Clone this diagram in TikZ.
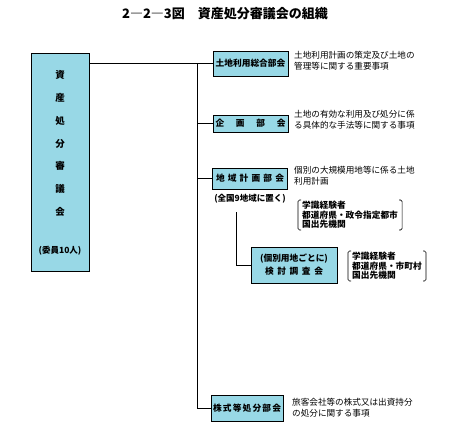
\documentclass[tikz,border=0pt]{standalone}
\usepackage{fontspec}
\setmainfont{Noto Sans CJK JP}
\definecolor{boxcyan}{RGB}{152,216,230}
\newcommand{\hf}{\hfill{}}
\begin{document}
\begin{tikzpicture}[x=1pt,y=-1pt,
  box/.style={draw=black, line width=0.9pt, fill=boxcyan, inner sep=0pt, font=\fontsize{8.7}{10}\selectfont\bfseries},
  conn/.style={draw=black, line width=0.8pt},
  desc/.style={anchor=north west, inner sep=0pt, align=left, font=\fontsize{8.6}{11.5}\selectfont},
  brk/.style={anchor=north west, inner xsep=4pt, inner ysep=1pt, align=left, font=\fontsize{8.7}{9.6}\selectfont\bfseries},
  brline/.style={draw=black, line width=0.6pt, rounded corners=1.5pt}]
\useasboundingbox (0,0) rectangle (462,440);
\fill[white] (0,0) rectangle (462,440);
% title
\node[font=\fontsize{13}{15}\selectfont\bfseries, inner sep=0pt] (title) at (225,14) {2―2―3図　資産処分審議会の組織};
% council
\node[box, minimum width=58pt, minimum height=218pt] (council) at (60,162) {};
\node[inner sep=0pt, align=center, font=\fontsize{9.5}{22.8}\selectfont\bfseries] (ctext) at (60,143.5) {資\\産\\処\\分\\審\\議\\会};
\node[inner sep=0pt, font=\fontsize{8.5}{10}\selectfont\bfseries] (cmem) at (60,251) {(委員10人)};
% sub-committees
\node[box, minimum width=75pt, minimum height=25pt] (b1) at (250.5,63.5) {土地利用総合部会};
\node[box, minimum width=75pt, minimum height=17pt] (b2) at (250.5,123.5) {\makebox[70pt][s]{{企}\hf{画}\hf{部}\hf{会}}};
\node[box, minimum width=75pt, minimum height=21pt] (b3) at (250,178.5) {\makebox[68pt][s]{{地}\hf{域}\hf{計}\hf{画}\hf{部}\hf{会}}};
\node[box, minimum width=86pt, minimum height=36pt, align=center, font=\fontsize{8.7}{13}\selectfont\bfseries] (b4) at (294,265) {(個別用地ごとに)\\\makebox[58pt][s]{{検}\hf{討}\hf{調}\hf{査}\hf{会}}};
\node[box, minimum width=72pt, minimum height=26pt] (b5) at (247,408) {\makebox[68pt][s]{{株}\hf{式}\hf{等}\hf{処}\hf{分}\hf{部}\hf{会}}};
% descriptions
\node[desc] (d1) at (294,51) {土地利用計画の策定及び土地の\\管理等に関する重要事項};
\node[desc] (d2) at (294,110) {土地の有効な利用及び処分に係\\る具体的な手法等に関する事項};
\node[desc] (d3) at (294,166) {個別の大規模用地等に係る土地\\利用計画};
\node[inner sep=0pt, font=\fontsize{8.5}{10}\selectfont\bfseries] (d3b) at (250,199) {(全国9地域に置く)};
\node[desc] (d5) at (292,398) {旅客会社等の株式又は出資持分\\の処分に関する事項};
% bracketed member lists
\node[brk] (m1) at (298,200) {学識経験者\\都道府県・政令指定都市\\国出先機関};
\draw[brline] ([xshift=3pt]m1.north west) -- (m1.north west) -- (m1.south west) -- ([xshift=3pt]m1.south west);
\draw[brline] ([xshift=-3pt]m1.north east) -- (m1.north east) -- (m1.south east) -- ([xshift=-3pt]m1.south east);
\node[brk] (m2) at (348,251) {学識経験者\\都道府県・市町村\\国出先機関};
\draw[brline] ([xshift=3pt]m2.north west) -- (m2.north west) -- (m2.south west) -- ([xshift=3pt]m2.south west);
\draw[brline] ([xshift=-3pt]m2.north east) -- (m2.north east) -- (m2.south east) -- ([xshift=-3pt]m2.south east);
% connectors
\coordinate (trunk) at (197,64);
\draw[conn] (council.east |- b1.west) -- (b1.west);
\draw[conn] (trunk) |- (b5.west);
\draw[conn] (trunk |- b2.west) -- (b2.west);
\draw[conn] (trunk |- b3.west) -- (b3.west);
\coordinate (subtop) at (236,212);
\draw[conn] (subtop) |- (b4.west);
\end{tikzpicture}
\end{document}
